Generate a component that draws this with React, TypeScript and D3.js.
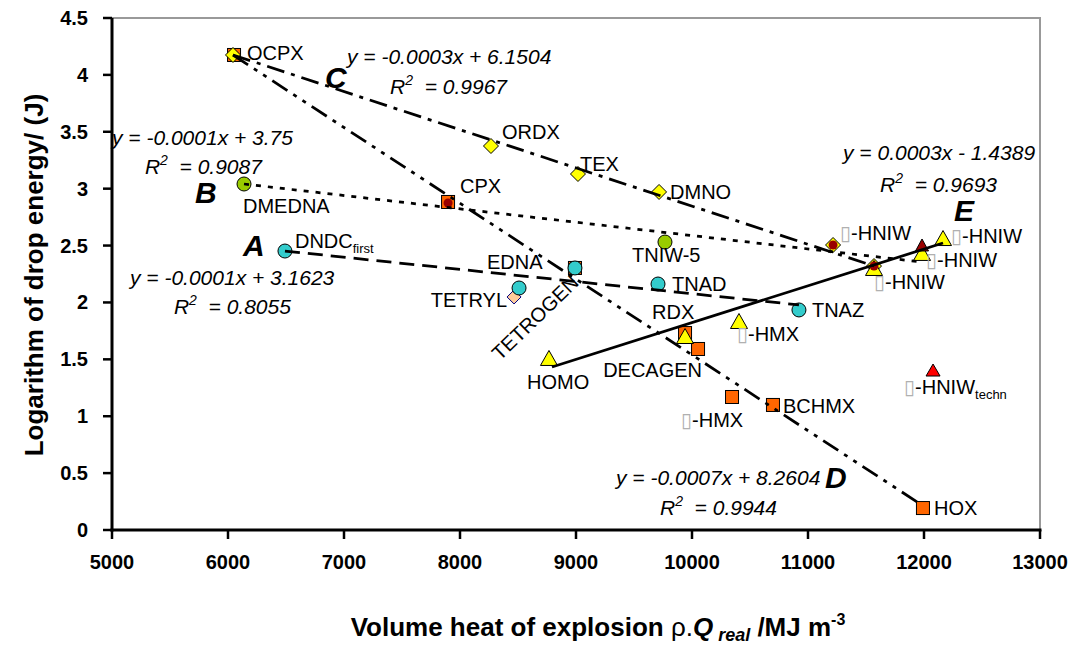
import React, { useEffect, useRef } from 'react';
import * as d3 from 'd3';

// axis ticks
const xTicks = [5000, 6000, 7000, 8000, 9000, 10000, 11000, 12000, 13000];
const yTicks = [0, 0.5, 1, 1.5, 2, 2.5, 3, 3.5, 4, 4.5];

// series (x = volume heat, y = log drop energy)
const orangeSquares = [
  { name: 'OCPX', x: 6052, y: 4.175 },
  { name: 'CPX', x: 7897, y: 2.883 },
  { name: 'TETROGEN', x: 8991, y: 2.303 },
  { name: 'RDX', x: 9940, y: 1.731 },
  { name: 'DECAGEN', x: 10052, y: 1.591 },
  { name: 'e-HMX', x: 10345, y: 1.169 },
  { name: 'BCHMX', x: 10698, y: 1.099 },
  { name: 'HOX', x: 11991, y: 0.193 },
];
const peachDiamonds = [{ name: 'TETRYL', x: 8466, y: 2.048 }];
const yellowDiamonds = [
  { name: 'OCPX', x: 6043, y: 4.175 },
  { name: 'ORDX', x: 8267, y: 3.375 },
  { name: 'TEX', x: 9017, y: 3.129 },
  { name: 'DMNO', x: 9716, y: 2.971 },
  { name: 'HNIW', x: 11216, y: 2.505 },
  { name: 'HNIW', x: 11569, y: 2.32 },
];
const cyanCircles = [
  { name: 'DNDC', x: 6491, y: 2.452 },
  { name: 'EDNA', x: 8509, y: 2.127 },
  { name: 'TETROGEN', x: 8991, y: 2.303 },
  { name: 'TNAD', x: 9707, y: 2.162 },
  { name: 'TNAZ', x: 10922, y: 1.934 },
];
const greenCircles = [
  { name: 'DMEDNA', x: 6138, y: 3.041 },
  { name: 'TNIW-5', x: 9767, y: 2.531 },
];
const yellowTriangles = [
  { name: 'HOMO', x: 8767, y: 1.512 },
  { name: 'RDX', x: 9940, y: 1.705 },
  { name: 'b-HMX', x: 10405, y: 1.837 },
  { name: 'HNIW', x: 11569, y: 2.303 },
  { name: 'HNIW', x: 11983, y: 2.435 },
  { name: 'HNIW', x: 12164, y: 2.566 },
];
const darkRedTriangles = [{ name: 'HNIW', x: 11983, y: 2.505 }];
const redTriangles = [{ name: 'HNIW techn', x: 12078, y: 1.406 }];
const darkRedCircles = [
  { name: 'CPX', x: 7897, y: 2.874 },
  { name: 'HNIW', x: 11216, y: 2.505 },
  { name: 'HNIW', x: 11569, y: 2.32 },
];

// trend lines (start / end)
const trendLines = [
  { id: 'A', x1: 6491, y1: 2.452, x2: 10922, y2: 1.978, dash: '15,8' },
  { id: 'B', x1: 6138, y1: 3.041, x2: 11940, y2: 2.36, dash: '5,7' },
  { id: 'C', x1: 6043, y1: 4.175, x2: 11569, y2: 2.32, dash: '18,7,4,7' },
  { id: 'D', x1: 6043, y1: 4.175, x2: 11950, y2: 0.24, dash: '18,7,4,7,4,7' },
  { id: 'E', x1: 8793, y1: 1.433, x2: 12164, y2: 2.522, dash: null },
];

const equations = [
  { eq: 'y = -0.0003x + 6.1504', r2: '0.9967', x: 7026, y: 4.096, rx: 7397, ry: 3.832 },
  { eq: 'y = -0.0001x + 3.75', r2: '0.9087', x: 5000, y: 3.384, rx: 5284, ry: 3.129 },
  { eq: 'y = -0.0001x + 3.1623', r2: '0.8055', x: 5155, y: 2.153, rx: 5534, ry: 1.898 },
  { eq: 'y = 0.0003x - 1.4389', r2: '0.9693', x: 11302, y: 3.252, rx: 11621, ry: 2.971 },
  { eq: 'y = -0.0007x + 8.2604', r2: '0.9944', x: 9345, y: 0.395, rx: 9724, ry: 0.132 },
];
const groupLetters = [
  { text: 'C', x: 6836, y: 3.885 },
  { text: 'B', x: 5716, y: 2.874 },
  { text: 'A', x: 6129, y: 2.408 },
  { text: 'E', x: 12259, y: 2.715 },
  { text: 'D', x: 11147, y: 0.369 },
];

// point labels, offsets in px from the point
const pointLabels = [
  { text: 'OCPX', x: 6052, y: 4.175, dx: 13, dy: 5 },
  { text: 'ORDX', x: 8267, y: 3.375, dx: 11, dy: -7 },
  { text: 'TEX', x: 9017, y: 3.129, dx: 2, dy: -3 },
  { text: 'DMNO', x: 9716, y: 2.971, dx: 11, dy: 7 },
  { text: 'CPX', x: 7897, y: 2.883, dx: 12, dy: -9 },
  { text: 'DMEDNA', x: 6138, y: 3.041, dx: -1, dy: 29 },
  { text: 'DNDC', sub: 'first', x: 6491, y: 2.452, dx: 10, dy: -3 },
  { text: 'TNIW-5', x: 9767, y: 2.531, dx: -33, dy: 20 },
  { text: 'EDNA', x: 8509, y: 2.127, dx: -32, dy: -19 },
  { text: 'TETRYL', x: 8466, y: 2.048, dx: -7, dy: 10, anchor: 'end' },
  { text: 'TETROGEN', x: 8991, y: 2.303, dx: 5, dy: 16, anchor: 'end', rotate: -44 },
  { text: 'TNAD', x: 9707, y: 2.162, dx: 14, dy: 7 },
  { text: 'RDX', x: 9940, y: 1.731, dx: -33, dy: -14 },
  { text: 'TNAZ', x: 10922, y: 1.934, dx: 13, dy: 7 },
  { text: '-HMX', box: true, x: 10405, y: 1.837, dx: -2, dy: 20 },
  { text: 'DECAGEN', x: 10052, y: 1.591, dx: 4, dy: 28, anchor: 'end' },
  { text: 'HOMO', x: 8767, y: 1.512, dx: -22, dy: 31 },
  { text: '-HMX', box: true, x: 10345, y: 1.169, dx: -51, dy: 30 },
  { text: 'BCHMX', x: 10698, y: 1.099, dx: 10, dy: 8 },
  { text: '-HNIW', box: true, sub: 'techn', x: 12078, y: 1.406, dx: -29, dy: 24 },
  { text: 'HOX', x: 11991, y: 0.193, dx: 11, dy: 7 },
  { text: '-HNIW', box: true, x: 11216, y: 2.505, dx: 7, dy: -5 },
  { text: '-HNIW', box: true, x: 11569, y: 2.32, dx: 0, dy: 23 },
  { text: '-HNIW', box: true, x: 11983, y: 2.435, dx: 4, dy: 14 },
  { text: '-HNIW', box: true, x: 12164, y: 2.566, dx: 8, dy: 5 },
];

const FONT = '"Liberation Sans", Arial, sans-serif';

const App = () => {
  const svgRef = useRef<SVGSVGElement>(null);

  useEffect(() => {
    const W = 1078;
    const H = 646;
    const margin = { top: 18, right: 38, bottom: 116, left: 112 };

    const svg = d3.select(svgRef.current);
    svg.selectAll('*').remove();
    svg.attr('width', W).attr('height', H).style('font-family', FONT);

    const x = d3.scaleLinear().domain([5000, 13000]).range([margin.left, W - margin.right]);
    const y = d3.scaleLinear().domain([0, 4.5]).range([H - margin.bottom, margin.top]);

    // gray frame top / right
    svg.append('path')
      .attr('d', `M${x(5000)},${y(4.5)}H${x(13000)}V${y(0)}`)
      .attr('fill', 'none')
      .attr('stroke', '#999')
      .attr('stroke-width', 2);

    // markers
    const g = svg.append('g');
    const tri = (w, h) => (d) => {
      const cx = x(d.x), cy = y(d.y);
      return `M${cx},${cy - h / 2}L${cx + w / 2},${cy + h / 2}L${cx - w / 2},${cy + h / 2}Z`;
    };
    const dia = (s) => (d) => {
      const cx = x(d.x), cy = y(d.y);
      return `M${cx},${cy - s}L${cx + s},${cy}L${cx},${cy + s}L${cx - s},${cy}Z`;
    };

    g.selectAll('.sq').data(orangeSquares).enter().append('rect')
      .attr('x', d => x(d.x) - 6.5).attr('y', d => y(d.y) - 6.5)
      .attr('width', 13).attr('height', 13)
      .attr('fill', '#FF6600').attr('stroke', '#000').attr('stroke-width', 1);

    g.selectAll('.pd').data(peachDiamonds).enter().append('path')
      .attr('d', dia(7)).attr('fill', '#FFCC99').attr('stroke', '#000080').attr('stroke-width', 1);

    g.selectAll('.yd').data(yellowDiamonds).enter().append('path')
      .attr('d', dia(7.5)).attr('fill', '#FFFF00').attr('stroke', '#000').attr('stroke-width', 1);

    g.selectAll('.cc').data(cyanCircles).enter().append('circle')
      .attr('cx', d => x(d.x)).attr('cy', d => y(d.y)).attr('r', 7)
      .attr('fill', '#33CCCC').attr('stroke', '#000').attr('stroke-width', 1);

    g.selectAll('.gc').data(greenCircles).enter().append('circle')
      .attr('cx', d => x(d.x)).attr('cy', d => y(d.y)).attr('r', 7)
      .attr('fill', '#99CC00').attr('stroke', '#000').attr('stroke-width', 1);

    g.selectAll('.yt').data(yellowTriangles).enter().append('path')
      .attr('d', tri(17, 15)).attr('fill', '#FFFF00').attr('stroke', '#000').attr('stroke-width', 1);

    g.selectAll('.dt').data(darkRedTriangles).enter().append('path')
      .attr('d', tri(13, 12)).attr('fill', '#990000').attr('stroke', '#000').attr('stroke-width', 1);

    g.selectAll('.rt').data(redTriangles).enter().append('path')
      .attr('d', tri(14, 12)).attr('fill', '#FF0000').attr('stroke', '#000').attr('stroke-width', 1);

    g.selectAll('.dc').data(darkRedCircles).enter().append('circle')
      .attr('cx', d => x(d.x)).attr('cy', d => y(d.y)).attr('r', 4.5)
      .attr('fill', '#990000');

    // trend lines on top
    svg.selectAll('.trend').data(trendLines).enter().append('line')
      .attr('x1', d => x(d.x1)).attr('y1', d => y(d.y1))
      .attr('x2', d => x(d.x2)).attr('y2', d => y(d.y2))
      .attr('stroke', '#000').attr('stroke-width', 2.75)
      .attr('stroke-dasharray', d => d.dash);

    // point labels
    pointLabels.forEach(l => {
      const px = x(l.x) + l.dx;
      const py = y(l.y) + l.dy;
      const t = svg.append('text')
        .attr('x', px).attr('y', py)
        .attr('text-anchor', l.anchor || 'start')
        .style('font-size', '20px')
        .attr('fill', '#000');
      if (l.rotate) t.attr('transform', `rotate(${l.rotate},${px},${py})`);
      if (l.box) {
        t.append('tspan').attr('fill', '#b0b0b0')
          .style('font-family', '"DejaVu Sans"').style('font-size', '20px')
          .text('\u25AF');
      }
      t.append('tspan').text(l.text);
      if (l.sub) t.append('tspan').attr('dy', 5).style('font-size', '13px').text(l.sub);
    });

    // regression equations
    equations.forEach(e => {
      svg.append('text')
        .attr('x', x(e.x)).attr('y', y(e.y))
        .style('font-size', '21px').style('font-style', 'italic')
        .text(e.eq);
      const r = svg.append('text')
        .attr('x', x(e.rx)).attr('y', y(e.ry))
        .style('font-size', '21px').style('font-style', 'italic');
      r.append('tspan').text('R');
      r.append('tspan').attr('dy', -9).style('font-size', '14px').text('2');
      r.append('tspan').attr('dy', 9).attr('xml:space', 'preserve').text('  = ' + e.r2);
    });

    groupLetters.forEach(l => {
      svg.append('text')
        .attr('x', x(l.x)).attr('y', y(l.y))
        .style('font-size', '30px').style('font-weight', 'bold').style('font-style', 'italic')
        .text(l.text);
    });

    // axes
    svg.append('line')
      .attr('x1', x(5000)).attr('x2', x(5000)).attr('y1', y(4.5)).attr('y2', y(0) + 1.5)
      .attr('stroke', '#000').attr('stroke-width', 3);
    svg.append('line')
      .attr('x1', x(5000) - 1.5).attr('x2', x(13000) + 1.5).attr('y1', y(0)).attr('y2', y(0))
      .attr('stroke', '#000').attr('stroke-width', 3);

    svg.selectAll('.ytick').data(yTicks).enter().append('line')
      .attr('x1', x(5000) - 9).attr('x2', x(5000)).attr('y1', d => y(d)).attr('y2', d => y(d))
      .attr('stroke', '#000').attr('stroke-width', 2.5);
    svg.selectAll('.ylab').data(yTicks).enter().append('text')
      .attr('x', x(5000) - 24).attr('y', d => y(d) + 7)
      .attr('text-anchor', 'end')
      .style('font-size', '20px').style('font-weight', 'bold')
      .text(d => d3.format('')(d));

    svg.selectAll('.xtick').data(xTicks).enter().append('line')
      .attr('x1', d => x(d)).attr('x2', d => x(d)).attr('y1', y(0)).attr('y2', y(0) + 9)
      .attr('stroke', '#000').attr('stroke-width', 2.5);
    svg.selectAll('.xlab').data(xTicks).enter().append('text')
      .attr('x', d => x(d)).attr('y', y(0) + 39)
      .attr('text-anchor', 'middle')
      .style('font-size', '20px').style('font-weight', 'bold')
      .text(d => d);

    // axis titles
    const xt = svg.append('text')
      .attr('x', 598).attr('y', 636)
      .attr('text-anchor', 'middle')
      .style('font-size', '26px').style('font-weight', 'bold');
    xt.append('tspan').text('Volume heat of explosion ');
    xt.append('tspan').style('font-weight', 'normal').text('\u03C1.');
    xt.append('tspan').style('font-style', 'italic').text('Q');
    xt.append('tspan').attr('dy', 5).style('font-style', 'italic').style('font-size', '18px').text(' real');
    xt.append('tspan').attr('dy', -5).attr('xml:space', 'preserve').text(' /MJ m');
    xt.append('tspan').attr('dy', -11).style('font-size', '16px').text('-3');

    svg.append('text')
      .attr('transform', 'translate(43,275) rotate(-90)')
      .attr('text-anchor', 'middle')
      .style('font-size', '26px').style('font-weight', 'bold')
      .text('Logarithm of drop energy/ (J)');
  }, []);

  return (
    <svg ref={svgRef} style={{ position: 'absolute', left: 0, top: 0, background: '#fff' }} />
  );
};

export default App;
